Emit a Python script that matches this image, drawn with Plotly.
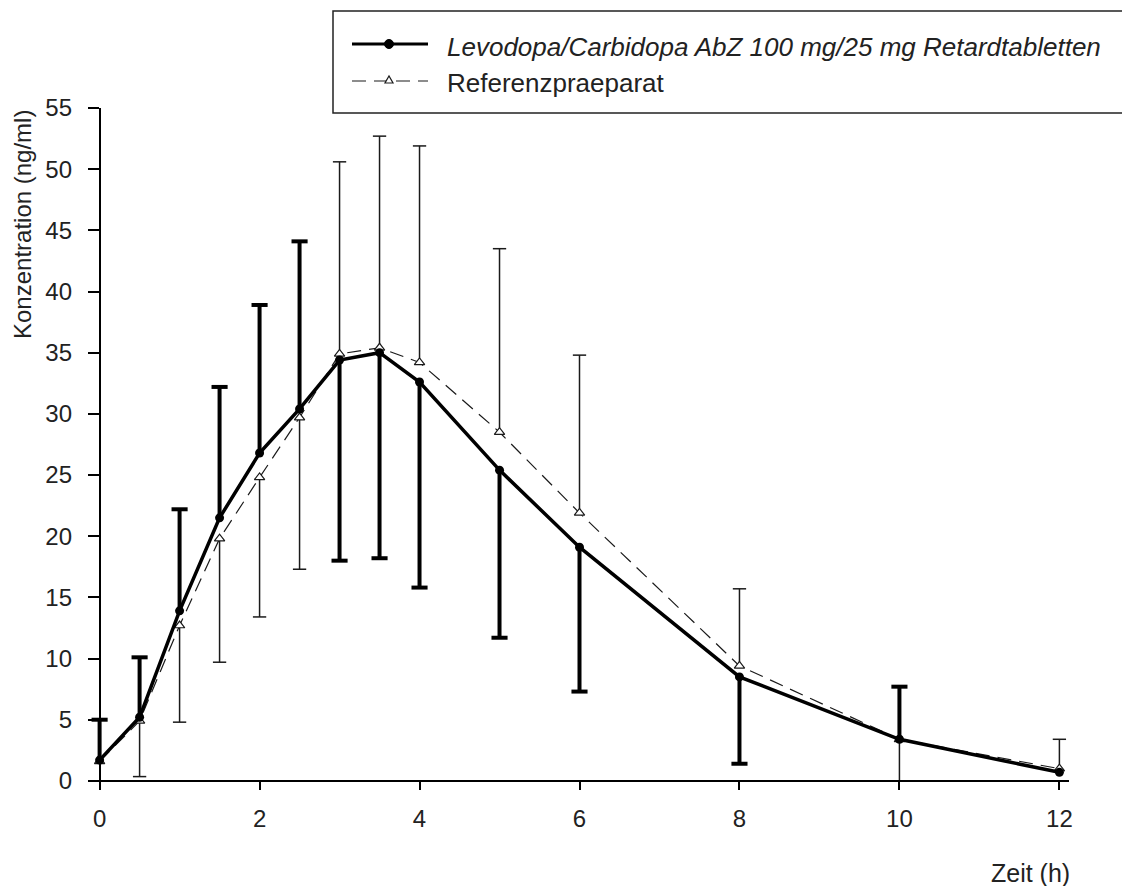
import plotly.graph_objects as go

# ---------------- data ----------------
time_h = [0, 0.5, 1, 1.5, 2, 2.5, 3, 3.5, 4, 5, 6, 8, 10, 12]

test_mean = [1.7, 5.2, 13.9, 21.5, 26.8, 30.4, 34.4, 35.0, 32.6, 25.4, 19.1, 8.5, 3.4, 0.7]
test_err_up = [3.3, 4.9, 8.3, 10.7, 12.1, 13.7, 0, 0, 0, 0, 0, 0, 4.3, 0]
test_err_down = [0, 0, 0, 0, 0, 0, 16.4, 16.8, 16.8, 13.7, 11.8, 7.1, 0, 0]

ref_mean = [1.6, 4.9, 12.7, 19.8, 24.8, 29.7, 34.9, 35.4, 34.2, 28.5, 21.9, 9.4, 3.4, 1.0]
ref_err_up = [0, 0, 0, 0, 0, 0, 15.7, 17.3, 17.7, 15.0, 12.9, 6.3, 0, 2.4]
ref_err_down = [0, 4.55, 7.9, 10.1, 11.4, 12.4, 0, 0, 0, 0, 0, 0, 3.4, 0]

x_ticks = [0, 2, 4, 6, 8, 10, 12]
y_ticks = [0, 5, 10, 15, 20, 25, 30, 35, 40, 45, 50, 55]

name_test = "Levodopa/Carbidopa AbZ 100 mg/25 mg Retardtabletten"
name_ref = "Referenzpraeparat"
x_title = "Zeit (h)"
y_title = "Konzentration (ng/ml)"

FONT = "Liberation Sans, Arial, sans-serif"
X_RANGE = [-0.12, 12.12]
Y_RANGE = [-0.5, 55.0]

# layout geometry (pixels)
W, H = 1122, 886
ML, MR, MT, MB = 90, 53, 108, 99
PW, PH = W - ML - MR, H - MT - MB


def px(xp):
    return (xp - ML) / PW


def py(yp):
    return (MT + PH - yp) / PH


def cap_points(xs, means, ups, downs):
    cx, cy = [], []
    for x, m, u, d in zip(xs, means, ups, downs):
        if u > 0:
            cx.append(x)
            cy.append(m + u)
        if d > 0:
            cx.append(x)
            cy.append(m - d)
    return cx, cy


fig = go.Figure()

# ---- reference product (thin dashed, open triangles) ----
fig.add_trace(go.Scatter(
    x=time_h, y=ref_mean, mode="lines+markers", name=name_ref, showlegend=False,
    line=dict(color="#1a1a1a", width=1.2, dash="14px,8px"),
    marker=dict(symbol="triangle-up", size=9, color="white",
                line=dict(color="#1a1a1a", width=1.2)),
    error_y=dict(type="data", symmetric=False, array=ref_err_up,
                 arrayminus=ref_err_down, color="#1a1a1a", thickness=1.5, width=0),
    cliponaxis=False,
))
rcx, rcy = cap_points(time_h, ref_mean, ref_err_up, ref_err_down)
fig.add_trace(go.Scatter(
    x=rcx, y=rcy, mode="markers", showlegend=False, hoverinfo="skip",
    marker=dict(symbol="line-ew", size=9.5, line=dict(color="#1a1a1a", width=1.5)),
    cliponaxis=False,
))

# ---- test product (thick solid, filled circles) ----
fig.add_trace(go.Scatter(
    x=time_h, y=test_mean, mode="lines+markers", name=name_test, showlegend=False,
    line=dict(color="black", width=3.5),
    marker=dict(symbol="circle", size=9, color="black"),
    error_y=dict(type="data", symmetric=False, array=test_err_up,
                 arrayminus=test_err_down, color="black", thickness=4, width=0),
    cliponaxis=False,
))
tcx, tcy = cap_points(time_h, test_mean, test_err_up, test_err_down)
fig.add_trace(go.Scatter(
    x=tcx, y=tcy, mode="markers", showlegend=False, hoverinfo="skip",
    marker=dict(symbol="line-ew", size=11.5, line=dict(color="black", width=4)),
    cliponaxis=False,
))

# ---------------- axes ----------------
fig.update_xaxes(
    range=X_RANGE, tickvals=x_ticks, ticktext=[str(v) for v in x_ticks],
    anchor="free", position=(0 - Y_RANGE[0]) / (Y_RANGE[1] - Y_RANGE[0]),
    showline=True, linecolor="black", linewidth=1.5,
    ticks="outside", ticklen=8, tickwidth=1.5, tickcolor="black",
    showgrid=False, zeroline=False, ticklabelstandoff=9,
    tickfont=dict(family=FONT, size=24, color="#222222"),
)
fig.update_yaxes(
    range=Y_RANGE, tickvals=y_ticks, ticktext=[str(v) for v in y_ticks],
    anchor="free", position=(0 - X_RANGE[0]) / (X_RANGE[1] - X_RANGE[0]),
    showline=True, linecolor="black", linewidth=1.5,
    ticks="outside", ticklen=11, tickwidth=1.5, tickcolor="black",
    showgrid=False, zeroline=False, ticklabelstandoff=11,
    tickfont=dict(family=FONT, size=24, color="#222222"),
)

# ---------------- legend (drawn manually) ----------------
shapes = [
    dict(type="rect", xref="paper", yref="paper",
         x0=px(333), x1=px(1135), y0=py(113), y1=py(11),
         line=dict(color="#222222", width=1.5), fillcolor="rgba(0,0,0,0)"),
    dict(type="line", xref="paper", yref="paper",
         x0=px(352), x1=px(428), y0=py(44), y1=py(44),
         line=dict(color="black", width=3)),
    dict(type="circle", xref="paper", yref="paper", xsizemode="pixel", ysizemode="pixel",
         xanchor=px(389), yanchor=py(44), x0=-4.5, x1=4.5, y0=-4.5, y1=4.5,
         fillcolor="black", line=dict(color="black", width=1)),
    dict(type="line", xref="paper", yref="paper",
         x0=px(352), x1=px(428), y0=py(81), y1=py(81),
         line=dict(color="#1a1a1a", width=1.2, dash="14px,8px")),
    dict(type="path", xref="paper", yref="paper", xsizemode="pixel", ysizemode="pixel",
         xanchor=px(389), yanchor=py(80), path="M-4,-3 L4,-3 L0,4 Z",
         fillcolor="white", line=dict(color="#1a1a1a", width=1.2)),
]

annotations = [
    dict(text="<i>" + name_test + "</i>", xref="paper", yref="paper",
         x=px(445), y=py(47), xanchor="left", yanchor="middle", showarrow=False,
         font=dict(family=FONT, size=26, color="#222222")),
    dict(text=name_ref, xref="paper", yref="paper",
         x=px(445), y=py(83), xanchor="left", yanchor="middle", showarrow=False,
         font=dict(family=FONT, size=26, color="#222222")),
    dict(text=y_title, xref="paper", yref="paper", textangle=-90,
         x=px(22), y=py(225), xanchor="center", yanchor="middle", showarrow=False,
         font=dict(family=FONT, size=24, color="#222222")),
    dict(text=x_title, xref="paper", yref="paper",
         x=px(1030), y=py(873), xanchor="center", yanchor="middle", showarrow=False,
         font=dict(family=FONT, size=25, color="#222222")),
]

fig.update_layout(
    width=W, height=H,
    margin=dict(l=ML, r=MR, t=MT, b=MB, autoexpand=False),
    paper_bgcolor="white", plot_bgcolor="white",
    showlegend=False,
    shapes=shapes, annotations=annotations,
    font=dict(family=FONT, size=24, color="#222222"),
)

fig.write_html("out.html")
